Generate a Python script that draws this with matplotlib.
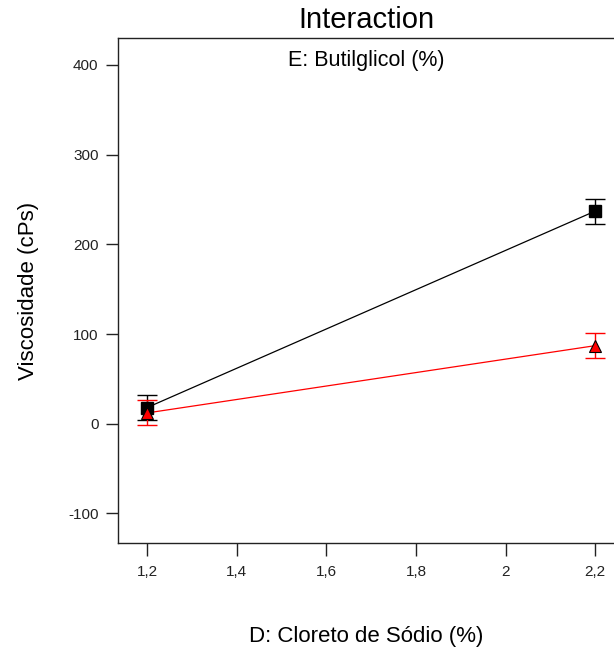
import matplotlib
matplotlib.use("Agg")

import matplotlib.pyplot as plt
import numpy as np

# ── Data ────────────────────────────────────────────────────────────────────
x_levels   = [1.2, 2.2]
black_vals = [18, 237]     # E high (square)
black_err  = [14, 14]
red_vals   = [12, 87]      # E low (triangle)
red_err    = [14, 14]

xticks       = [1.2, 1.4, 1.6, 1.8, 2.0, 2.2]
xtick_labels = ["1,2", "1,4", "1,6", "1,8", "2", "2,2"]
yticks       = [-100, 0, 100, 200, 300, 400]

plt.rcParams.update({
    "font.family": ["Liberation Sans", "DejaVu Sans"],
    "axes.unicode_minus": False,
})

fig = plt.figure(figsize=(6.14, 6.54), dpi=100)
ax = fig.add_axes([118 / 614, 1 - 543 / 654, 1 - 118 / 614, (543 - 38) / 654])

# lines + markers + error bars
ax.plot(x_levels, black_vals, color="black", lw=0.9, zorder=2)
ax.plot(x_levels, red_vals, color="red", lw=0.9, zorder=2)

ax.errorbar(x_levels, black_vals, yerr=black_err, fmt="none", ecolor="black",
            elinewidth=1.0, capsize=7.5, capthick=1.0, zorder=3)
ax.errorbar(x_levels, red_vals, yerr=red_err, fmt="none", ecolor="red",
            elinewidth=1.0, capsize=7.5, capthick=1.0, zorder=3)

ax.plot(x_levels, black_vals, ls="none", marker="s", ms=8.5,
        mfc="black", mec="black", zorder=4)
ax.plot(x_levels, red_vals, ls="none", marker="^", ms=9,
        mfc="red", mec="black", mew=0.8, zorder=5)

# ── Axes styling ────────────────────────────────────────────────────────────
ax.set_xlim(1.135, 2.242)
ax.set_ylim(-133, 430)
ax.set_xticks(xticks)
ax.set_xticklabels(xtick_labels)
ax.set_yticks(yticks)

ax.spines["right"].set_visible(False)
for s in ["left", "top", "bottom"]:
    ax.spines[s].set_linewidth(1.0)
    ax.spines[s].set_color("#222222")

ax.tick_params(axis="both", direction="out", length=9, width=1.0,
               color="#222222", labelsize=11, labelcolor="#222222")
ax.tick_params(axis="x", pad=7)
ax.tick_params(axis="y", pad=5)

ax.set_xlabel("D: Cloreto de Sódio (%)", fontsize=16, labelpad=34)
ax.set_ylabel("Viscosidade (cPs)", fontsize=16, labelpad=21)

fig.text((118 + 614) / 2 / 614, 1 - 20 / 654, "Interaction",
         ha="center", va="center", fontsize=21)
ax.text(0.5, 0.956, "E: Butilglicol (%)", transform=ax.transAxes,
        ha="center", va="center", fontsize=15.5)

fig.savefig("out.png", dpi=100, facecolor="white")
